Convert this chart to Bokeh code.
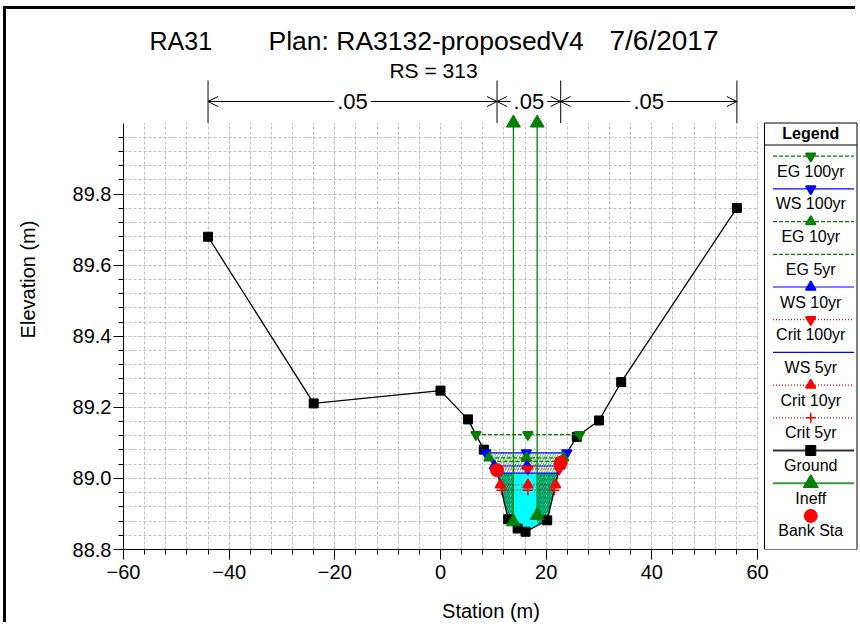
import math
from bokeh.plotting import figure
from bokeh.models import (Range1d, SingleIntervalTicker, NumeralTickFormatter,
                          Arrow, OpenHead, Label)
from bokeh.core.properties import value
from bokeh.embed import file_html
from bokeh.resources import INLINE

# ---------------- data ----------------
ground_sta = [-44.0, -24.0, 0.0, 5.2, 8.2, 10.7, 12.8, 14.6, 16.1, 20.2, 22.75, 25.8, 30.0, 34.2, 56.1]
ground_elev = [89.680, 89.211, 89.247, 89.166, 89.081, 89.023, 88.885, 88.859, 88.850, 88.882,
               89.044, 89.117, 89.163, 89.271, 89.761]
bank_sta = [10.7, 22.75]
bank_elev = [89.023, 89.044]
ineff_sta = [13.8, 18.3]
ineff_bottom = [88.878, 88.896]
ineff_top = [90.0, 90.0]
mann_sta = [-44.0, 10.7, 22.75, 56.1]
mann_n = [".05", ".05", ".05"]
profile_names = ["EG 100yr", "WS 100yr", "EG 10yr", "EG 5yr", "WS 10yr",
                 "Crit 100yr", "WS 5yr", "Crit 10yr", "Crit 5yr"]
profile_elev = [89.123, 89.072, 89.058, 89.048, 89.035, 89.026, 89.015, 88.982, 88.967]
legend_extra = ["Ground", "Ineff", "Bank Sta"]
title_parts = ["RA31", "Plan: RA3132-proposedV4", "7/6/2017"]
subtitle = "RS = 313"
x_label = "Station (m)"
y_label = "Elevation (m)"
x_ticks_major = 20
y_ticks_major = 0.2

# ---------------- styles ----------------
FONT = value("Liberation Sans")
GREEN = "#008000"
BLUE = "#0000ff"
RED = "#ff0000"
CYAN = "#00ffff"
GRID = "#c0c0c0"
profile_style = {
    "EG 100yr": dict(color=GREEN, dash="4 2", marker="inverted_triangle"),
    "WS 100yr": dict(color=BLUE, dash="solid", marker="inverted_triangle"),
    "EG 10yr": dict(color=GREEN, dash="4 2", marker="triangle"),
    "EG 5yr": dict(color=GREEN, dash="4 2", marker=None),
    "WS 10yr": dict(color=BLUE, dash="solid", marker="triangle"),
    "Crit 100yr": dict(color=RED, dash="1 2", marker="inverted_triangle"),
    "WS 5yr": dict(color=BLUE, dash="solid", marker=None),
    "Crit 10yr": dict(color=RED, dash="1 2", marker="triangle"),
    "Crit 5yr": dict(color=RED, dash="1 2", marker="cross"),
}

# ---------------- layout (page pixels) ----------------
OX, OY = 6, 9            # canvas origin on the page (css margin)
W, H = 852, 616
XMIN, XMAX = -60.0, 60.0
YMIN, YMAX = 88.8, 90.0
X0_PX, X1_PX = 123.0, 757.0
Y0_PX, Y1_PX = 549.0, 122.5
SX = (X1_PX - X0_PX) / (XMAX - XMIN)
SY = (Y0_PX - Y1_PX) / (YMAX - YMIN)


def px2x(px):
    return XMIN + (px - X0_PX) / SX


def py2y(py):
    return YMIN + (Y0_PX - py) / SY


x_end = px2x(OX + W)
y_end = py2y(OY)

p = figure(width=W, height=H, x_range=Range1d(XMIN, x_end), y_range=Range1d(YMIN, y_end),
           output_backend="svg", toolbar_location=None, title=None,
           min_border_left=int(X0_PX - OX), min_border_bottom=int(OY + H - Y0_PX),
           min_border_top=0, min_border_right=0,
           background_fill_color="white", border_fill_color="white",
           outline_line_color=None,
           styles={"margin-left": f"{OX}px", "margin-top": f"{OY}px",
                   "box-shadow": "-3px -3px 0px 0px black", "outline": "none"})

xt = SingleIntervalTicker(interval=x_ticks_major, num_minor_ticks=5)
yt = SingleIntervalTicker(interval=y_ticks_major, num_minor_ticks=5)
p.xaxis.ticker = xt
p.xgrid.ticker = xt
p.yaxis.ticker = yt
p.ygrid.ticker = yt
p.xaxis.bounds = (XMIN, XMAX)
p.yaxis.bounds = (YMIN, YMAX - 1e-4)
p.xgrid.bounds = (XMIN, XMAX)
p.ygrid.bounds = (YMIN, YMAX - 1e-4)
p.yaxis.formatter = NumeralTickFormatter(format="0.0")
p.xaxis.axis_label = x_label
p.yaxis.axis_label = y_label
for ax in (p.xaxis, p.yaxis):
    ax.axis_line_color = "black"
    ax.major_tick_line_color = "black"
    ax.minor_tick_line_color = "black"
    ax.major_tick_out = 10
    ax.major_tick_in = 0
    ax.minor_tick_out = 5
    ax.minor_tick_in = 0
    ax.major_label_text_font = "Liberation Sans"
    ax.major_label_text_font_size = "20px"
    ax.major_label_text_color = "black"
    ax.axis_label_text_font = "Liberation Sans"
    ax.axis_label_text_font_size = "20px"
    ax.axis_label_text_font_style = "normal"
    ax.axis_label_text_color = "black"
p.xaxis.major_label_standoff = 5
p.yaxis.major_label_standoff = 2
p.xaxis.axis_label_standoff = 18
p.yaxis.axis_label_standoff = 31
for g in (p.xgrid, p.ygrid):
    g.grid_line_color = GRID
    g.grid_line_dash = "3 2"
    g.minor_grid_line_color = GRID
    g.minor_grid_line_dash = "3 2"

# covers hiding the grid outside the plotting area (header + legend zone)
p.quad(left=XMIN - 30, right=x_end + 5, bottom=YMAX, top=y_end + 1,
       fill_color="white", line_color=None)
p.quad(left=XMAX + 0.15, right=x_end + 5, bottom=YMIN - 1, top=YMAX,
       fill_color="white", line_color=None)


# ---------------- geometry helpers ----------------
def level_crossings(level):
    sta, el = ground_sta, ground_elev
    i0 = min(range(len(el)), key=lambda k: el[k])
    i = i0
    while el[i - 1] < level:
        i -= 1
    xl = sta[i - 1] + (level - el[i - 1]) * (sta[i] - sta[i - 1]) / (el[i] - el[i - 1])
    j = i0
    while el[j + 1] < level:
        j += 1
    xr = sta[j] + (level - el[j]) * (sta[j + 1] - sta[j]) / (el[j + 1] - el[j])
    return i, j, xl, xr


def water_section(level):
    i, j, xl, xr = level_crossings(level)
    xs = [xl] + ground_sta[i:j + 1] + [xr]
    ys = [level] + ground_elev[i:j + 1] + [level]
    return xs, ys


def clip_x(xs, ys, a, b):
    def clip(pts, inside, inter):
        out = []
        n = len(pts)
        for k in range(n):
            P, Q = pts[k], pts[(k + 1) % n]
            if inside(Q):
                if not inside(P):
                    out.append(inter(P, Q))
                out.append(Q)
            elif inside(P):
                out.append(inter(P, Q))
        return out

    def ix(c):
        return lambda P, Q: (c, P[1] + (c - P[0]) * (Q[1] - P[1]) / (Q[0] - P[0]))

    pts = list(zip(xs, ys))
    pts = clip(pts, lambda P: P[0] >= a, ix(a))
    pts = clip(pts, lambda P: P[0] <= b, ix(b))
    return [q[0] for q in pts], [q[1] for q in pts]


lvl = dict(zip(profile_names, profile_elev))

# ---------------- water fills ----------------
bx, by = water_section(lvl["WS 100yr"])
p.patch(bx, by, fill_color=None, line_color=None, hatch_pattern="/",
        hatch_color=GREEN, hatch_alpha=0.6, hatch_scale=5, hatch_weight=1)
wx, wy = water_section(lvl["WS 5yr"])
p.patch(wx, wy, fill_color=CYAN, line_color=None)
lx, ly = clip_x(wx, wy, -math.inf, ineff_sta[0])
p.patch(lx, ly, fill_color=None, line_color=None, hatch_pattern="/",
        hatch_color="#006400", hatch_scale=4.5, hatch_weight=1.2)
rx, ry = clip_x(wx, wy, ineff_sta[1], math.inf)
p.patch(rx, ry, fill_color=None, line_color=None, hatch_pattern="/",
        hatch_color="#006400", hatch_scale=4.5, hatch_weight=1.2)

# ---------------- ground ----------------
p.line(ground_sta, ground_elev, line_color="black", line_width=1.3)
p.scatter(ground_sta, ground_elev, marker="square", size=9, color="black")

# ---------------- profiles ----------------
for name, lv in zip(profile_names, profile_elev):
    st = profile_style[name]
    _, _, xl, xr = level_crossings(lv)
    p.line([xl, xr], [lv, lv], line_color=st["color"], line_dash=st["dash"], line_width=1.2)
    if st["marker"]:
        p.scatter([xl, (xl + xr) / 2, xr], [lv, lv, lv], marker=st["marker"], size=10,
                  fill_color=st["color"], line_color=st["color"], line_width=1.5)

# ---------------- ineffective flow ----------------
p.segment(x0=ineff_sta, y0=ineff_bottom, x1=ineff_sta, y1=ineff_top,
          line_color=GREEN, line_width=1.3)
p.scatter(ineff_sta + ineff_sta, ineff_bottom + ineff_top, marker="triangle",
          size=14, color=GREEN)

# ---------------- bank stations ----------------
p.scatter(bank_sta, bank_elev, marker="circle", size=13, color=RED)

# ---------------- header ----------------
p.text(x=[px2x(149)], y=[py2y(40)], text=[title_parts[0]], text_align="left",
       text_baseline="alphabetic", text_font=FONT, text_font_size="25px", text_color="black")
p.text(x=[px2x(268)], y=[py2y(40)], text=[title_parts[1]], text_align="left",
       text_baseline="alphabetic", text_font=FONT, text_font_size="26.5px", text_color="black")
p.text(x=[px2x(718)], y=[py2y(40)], text=[title_parts[2]], text_align="right",
       text_baseline="alphabetic", text_font=FONT, text_font_size="28px", text_color="black")
p.text(x=[px2x(433)], y=[py2y(70)], text=[subtitle], text_align="center",
       text_baseline="alphabetic", text_font=FONT, text_font_size="21px", text_color="black")

p.segment(x0=mann_sta, y0=[YMAX] * len(mann_sta), x1=mann_sta, y1=[py2y(80)] * len(mann_sta),
          line_color="black", line_width=1)
ya = py2y(101)
for k, nv in enumerate(mann_n):
    a, b = mann_sta[k], mann_sta[k + 1]
    c = (a + b) / 2
    for e in (a, b):
        p.add_layout(Arrow(x_start=c, y_start=ya, x_end=e, y_end=ya, line_color="black",
                           line_width=1, end=OpenHead(size=10, line_width=1, line_color="black")))
for k, nv in enumerate(mann_n):
    c = (mann_sta[k] + mann_sta[k + 1]) / 2
    p.add_layout(Label(x=c, y=ya, text=nv, text_align="center", text_baseline="middle",
                       text_font="Liberation Sans", text_font_size="22px", text_color="black",
                       background_fill_color="white", padding=3))

# ---------------- legend (custom: sample above label) ----------------
LEG_L, LEG_R, LEG_T, LEG_B = 764.0, 856.5, 122.5, 549.0
LINE_L, LINE_R = 772.5, 853.5
cx = px2x((LEG_L + LEG_R) / 2)
p.quad(left=px2x(LEG_L), right=px2x(LEG_R), top=py2y(LEG_T), bottom=py2y(LEG_B),
       fill_color="white", line_color="black", line_width=1)
p.segment(x0=[px2x(LEG_L)], y0=[py2y(144.5)], x1=[px2x(LEG_R)], y1=[py2y(144.5)],
          line_color="black", line_width=1)
p.text(x=[cx], y=[py2y(133)], text=["Legend"], text_align="center", text_baseline="middle",
       text_font=FONT, text_font_size="16px", text_font_style="bold", text_color="black")
entries = profile_names + legend_extra
for i, name in enumerate(entries):
    y_line = py2y(155.7 + 32.7 * i)
    y_text = py2y(155.7 + 32.7 * i + 15)
    if name in profile_style:
        st = profile_style[name]
        p.line([px2x(LINE_L), px2x(LINE_R)], [y_line, y_line], line_color=st["color"],
               line_dash=st["dash"], line_width=1.2)
        if st["marker"]:
            p.scatter([cx], [y_line], marker=st["marker"], size=10, fill_color=st["color"],
                      line_color=st["color"], line_width=1.5)
    elif name == "Ground":
        p.line([px2x(LINE_L), px2x(LINE_R)], [y_line, y_line], line_color="#333333", line_width=2)
        p.scatter([cx], [y_line], marker="square", size=10, color="black")
    elif name == "Ineff":
        p.line([px2x(LINE_L), px2x(LINE_R)], [y_line, y_line], line_color="#3c9a3c", line_width=2)
        p.scatter([cx], [y_line], marker="triangle", size=15, color=GREEN)
    elif name == "Bank Sta":
        p.scatter([cx], [y_line], marker="circle", size=13, color=RED)
    p.text(x=[cx], y=[y_text], text=[name], text_align="center", text_baseline="middle",
           text_font=FONT, text_font_size="16px", text_color="black")

open("out.html", "w").write(file_html(p, INLINE))
